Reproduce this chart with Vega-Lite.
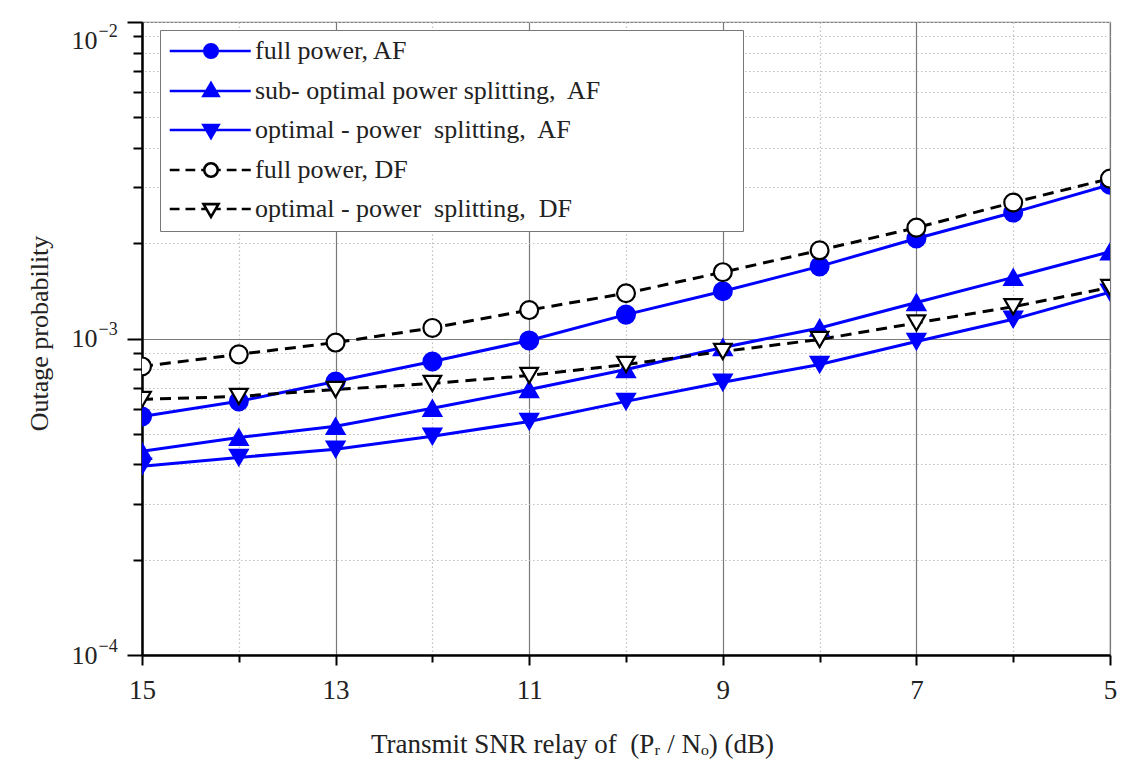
{
  "$schema": "https://vega.github.io/schema/vega-lite/v6.json",
  "width": 968,
  "height": 633,
  "autosize": "none",
  "padding": {"left": 142, "top": 22, "right": 17, "bottom": 108},
  "background": "white",
  "data": {
    "values": [
      {"x": 15, "y": 0.000567, "s": "fpAF"}, {"x": 14, "y": 0.000633, "s": "fpAF"}, {"x": 13, "y": 0.000731, "s": "fpAF"}, {"x": 12, "y": 0.000846, "s": "fpAF"}, {"x": 11, "y": 0.000986, "s": "fpAF"}, {"x": 10, "y": 0.00119, "s": "fpAF"}, {"x": 9, "y": 0.00141, "s": "fpAF"}, {"x": 8, "y": 0.00169, "s": "fpAF"}, {"x": 7, "y": 0.00207, "s": "fpAF"}, {"x": 6, "y": 0.0025, "s": "fpAF"}, {"x": 5, "y": 0.00306, "s": "fpAF"},
      {"x": 15, "y": 0.00044, "s": "soAF"}, {"x": 14, "y": 0.000487, "s": "soAF"}, {"x": 13, "y": 0.000528, "s": "soAF"}, {"x": 12, "y": 0.000602, "s": "soAF"}, {"x": 11, "y": 0.00069, "s": "soAF"}, {"x": 10, "y": 0.000798, "s": "soAF"}, {"x": 9, "y": 0.000937, "s": "soAF"}, {"x": 8, "y": 0.00108, "s": "soAF"}, {"x": 7, "y": 0.0013, "s": "soAF"}, {"x": 6, "y": 0.00156, "s": "soAF"}, {"x": 5, "y": 0.00188, "s": "soAF"},
      {"x": 15, "y": 0.000395, "s": "opAF"}, {"x": 14, "y": 0.000421, "s": "opAF"}, {"x": 13, "y": 0.000447, "s": "opAF"}, {"x": 12, "y": 0.000491, "s": "opAF"}, {"x": 11, "y": 0.000547, "s": "opAF"}, {"x": 10, "y": 0.000633, "s": "opAF"}, {"x": 9, "y": 0.000727, "s": "opAF"}, {"x": 8, "y": 0.000828, "s": "opAF"}, {"x": 7, "y": 0.000979, "s": "opAF"}, {"x": 6, "y": 0.00115, "s": "opAF"}, {"x": 5, "y": 0.0014, "s": "opAF"},
      {"x": 15, "y": 0.000816, "s": "fpDF"}, {"x": 14, "y": 0.000891, "s": "fpDF"}, {"x": 13, "y": 0.000971, "s": "fpDF"}, {"x": 12, "y": 0.00108, "s": "fpDF"}, {"x": 11, "y": 0.00123, "s": "fpDF"}, {"x": 10, "y": 0.00139, "s": "fpDF"}, {"x": 9, "y": 0.00162, "s": "fpDF"}, {"x": 8, "y": 0.0019, "s": "fpDF"}, {"x": 7, "y": 0.00224, "s": "fpDF"}, {"x": 6, "y": 0.00269, "s": "fpDF"}, {"x": 5, "y": 0.0032, "s": "fpDF"},
      {"x": 15, "y": 0.000642, "s": "opDF"}, {"x": 14, "y": 0.000656, "s": "opDF"}, {"x": 13, "y": 0.00069, "s": "opDF"}, {"x": 12, "y": 0.000721, "s": "opDF"}, {"x": 11, "y": 0.000764, "s": "opDF"}, {"x": 10, "y": 0.000828, "s": "opDF"}, {"x": 9, "y": 0.00091, "s": "opDF"}, {"x": 8, "y": 0.000993, "s": "opDF"}, {"x": 7, "y": 0.00112, "s": "opDF"}, {"x": 6, "y": 0.00126, "s": "opDF"}, {"x": 5, "y": 0.00145, "s": "opDF"}
    ]
  },
  "encoding": {
    "x": {
      "field": "x", "type": "quantitative",
      "scale": {"domain": [5, 15], "reverse": true, "nice": false, "zero": false},
      "axis": {
        "values": [5, 6, 7, 8, 9, 10, 11, 12, 13, 14, 15],
        "labelExpr": "datum.value % 2 === 1 ? datum.label : ''",
        "labelFont": "Liberation Serif", "labelFontSize": 27, "labelColor": "#222",
        "labelPadding": 12, "labelFlush": false, "labelOverlap": false, "labelBound": false,
        "tickColor": "black", "tickWidth": 2,
        "tickSize": {"condition": {"test": "datum.value % 2 === 1", "value": 10}, "value": 7},
        "domainColor": "black", "domainWidth": 2.5,
        "grid": true,
        "gridColor": {"condition": {"test": "datum.value % 2 === 1", "value": "#7a7a7a"}, "value": "#c0c0c0"},
        "gridDash": {"condition": {"test": "datum.value % 2 === 1", "value": []}, "value": [1.5, 2.5]},
        "gridWidth": 1.2,
        "title": "Transmit SNR relay of \u00a0(Pᵣ / Nₒ) (dB)",
        "titleFont": "Liberation Serif", "titleFontSize": 27, "titleFontWeight": "normal", "titleColor": "#222",
        "titleX": 430, "titleY": 97, "titleBaseline": "alphabetic", "titleAlign": "center"
      }
    }
  },
  "layer": [
    {
      "encoding": {
        "y": {
          "field": "y", "type": "quantitative",
          "scale": {"type": "log", "domain": [0.0001, 0.01], "nice": false},
          "axis": {
            "values": [0.0001, 0.0002, 0.0003, 0.0004, 0.0005, 0.0006, 0.0007, 0.0008, 0.0009, 0.001, 0.002, 0.003, 0.004, 0.005, 0.006, 0.007, 0.008, 0.009, 0.01],
            "labelExpr": "datum.value === 0.01 || datum.value === 0.001 || datum.value === 0.0001 ? '10' : ''",
            "labelFont": "Liberation Serif", "labelFontSize": 26, "labelColor": "#222",
            "labelPadding": 30, "labelFlush": false, "labelOverlap": false, "labelBound": false,
            "labelOffset": {"condition": {"test": "datum.value === 0.01", "value": 18}, "value": 0},
            "tickColor": "black", "tickWidth": 2,
            "tickSize": {"condition": {"test": "datum.value === 0.01 || datum.value === 0.001 || datum.value === 0.0001", "value": 15}, "value": 9},
            "domainColor": "black", "domainWidth": 2.5,
            "grid": true,
            "gridColor": {"condition": {"test": "datum.value === 0.001", "value": "#7a7a7a"}, "value": "#c0c0c0"},
            "gridDash": {"condition": {"test": "datum.value === 0.001", "value": []}, "value": [1.5, 2.5]},
            "gridWidth": 1.2,
            "title": "Outage probability",
            "titleFont": "Liberation Serif", "titleFontSize": 26, "titleFontWeight": "normal", "titleColor": "#222",
            "titleX": -95, "titleY": 311, "titleBaseline": "alphabetic", "titleAlign": "center", "titleAngle": 270
          }
        }
      },
      "layer": [
        {
          "transform": [{"filter": "indexof(datum.s, 'AF') >= 0"}],
          "mark": {"type": "line", "strokeWidth": 3, "clip": true},
          "encoding": {
            "color": {
              "field": "s", "type": "nominal",
              "scale": {"domain": ["fpAF", "soAF", "opAF", "fpDF", "opDF"], "range": ["#0000ff", "#0000ff", "#0000ff", "#000000", "#000000"]},
              "legend": {
                "title": null,
                "orient": "none", "legendX": 18, "legendY": 8,
                "direction": "vertical",
                "fillColor": "white", "strokeColor": "#777777", "padding": 8,
                "labelFont": "Liberation Serif", "labelFontSize": 26, "labelColor": "#222", "labelLimit": 1000,
                "labelOffset": 61, "rowPadding": 13, "symbolSize": 225, "symbolStrokeWidth": 2.6,
                "labelExpr": "datum.value === 'fpAF' ? 'full power, AF' : datum.value === 'soAF' ? 'sub- optimal power splitting,\u00a0 AF\u2800\u2800\u2800\u2800\u2800\u2800\u2800' : datum.value === 'opAF' ? 'optimal - power\u00a0 splitting,\u00a0 AF' : datum.value === 'fpDF' ? '\u00a0 full power, DF' : 'optimal - power\u00a0 splitting,\u00a0 DF'",
                "symbolType": {"expr": "datum.value === 'fpAF' ? 'M-1.5,0L9.3,0M3.1,0A0.9,0.9 0 1,1 4.9,0A0.9,0.9 0 1,1 3.1,0Z' : datum.value === 'soAF' ? 'M-1.5,0L9.3,0M4,-1.05L5,0.65L3,0.65Z' : datum.value === 'opAF' ? 'M-1.5,0L9.3,0M4,1.05L5,-0.65L3,-0.65Z' : datum.value === 'fpDF' ? 'M-1.5,0L-0.2,0M0.6,0L1.9,0M2.7,0L3.1,0M4.9,0L5.3,0M6.1,0L7.4,0M8.1,0L9.3,0M3.1,0A0.9,0.9 0 1,1 4.9,0A0.9,0.9 0 1,1 3.1,0Z' : 'M-1.5,0L-0.2,0M0.6,0L1.9,0M2.7,0L3.38,0M4.62,0L5.3,0M6.1,0L7.4,0M8.1,0L9.3,0M4,1.05L5,-0.65L3,-0.65Z'"},
                "symbolFillColor": {"expr": "indexof(datum.value, 'DF') >= 0 ? '#ffffff' : '#0000ff'"},
                "symbolStrokeColor": {"expr": "indexof(datum.value, 'DF') >= 0 ? '#000000' : '#0000ff'"},
                "symbolOpacity": 1
              }
            }
          }
        },
        {
          "transform": [{"filter": "indexof(datum.s, 'DF') >= 0"}],
          "mark": {"type": "line", "strokeWidth": 3, "strokeDash": [11, 7], "clip": true},
          "encoding": {
            "color": {"field": "s", "type": "nominal", "legend": null}
          }
        },
        {
          "transform": [{"filter": "datum.s === 'fpAF' || datum.s === 'fpDF'"}],
          "mark": {"type": "point", "shape": "circle", "size": 320, "strokeWidth": 2.2, "opacity": 1, "clip": true},
          "encoding": {
            "fill": {"field": "s", "type": "nominal", "scale": {"domain": ["fpAF", "soAF", "opAF", "fpDF", "opDF"], "range": ["#0000ff", "#0000ff", "#0000ff", "#ffffff", "#ffffff"]}, "legend": null},
            "stroke": {"field": "s", "type": "nominal", "scale": {"domain": ["fpAF", "soAF", "opAF", "fpDF", "opDF"], "range": ["#0000ff", "#0000ff", "#0000ff", "#000000", "#000000"]}, "legend": null}
          }
        },
        {
          "transform": [{"filter": "datum.s === 'soAF'"}],
          "mark": {"type": "point", "shape": "triangle-up", "size": 310, "strokeWidth": 2.2, "opacity": 1, "clip": true},
          "encoding": {
            "fill": {"field": "s", "type": "nominal", "legend": null},
            "stroke": {"field": "s", "type": "nominal", "legend": null}
          }
        },
        {
          "transform": [{"filter": "datum.s === 'opAF' || datum.s === 'opDF'"}],
          "mark": {"type": "point", "shape": "triangle-down", "size": 310, "strokeWidth": 2.2, "opacity": 1, "clip": true},
          "encoding": {
            "fill": {"field": "s", "type": "nominal", "legend": null},
            "stroke": {"field": "s", "type": "nominal", "legend": null}
          }
        }
      ]
    },
    {
      "transform": [{"filter": "datum.x > 100"}],
      "mark": {"type": "point", "opacity": 0},
      "encoding": {
        "y": {
          "field": "y", "type": "quantitative",
          "scale": {"type": "log", "domain": [0.0001, 0.01], "nice": false},
          "axis": {
            "orient": "right", "offset": -1012,
            "values": [0.0001, 0.001, 0.01],
            "labelExpr": "datum.value === 0.01 ? '\u22122' : datum.value === 0.001 ? '\u22123' : '\u22124'",
            "labelFont": "Liberation Serif", "labelFontSize": 18, "labelColor": "#222",
            "labelAlign": "left", "labelPadding": 0,
            "labelOffset": {"condition": {"test": "datum.value === 0.01", "value": 9}, "value": -9},
            "labelFlush": false, "labelOverlap": false, "labelBound": false,
            "ticks": false, "tickSize": 0, "domain": false, "grid": false, "title": null
          }
        }
      }
    }
  ],
  "resolve": {"axis": {"y": "independent"}},
  "config": {
    "font": "Liberation Serif",
    "view": {"stroke": "#808080", "strokeWidth": 1.2}
  }
}
